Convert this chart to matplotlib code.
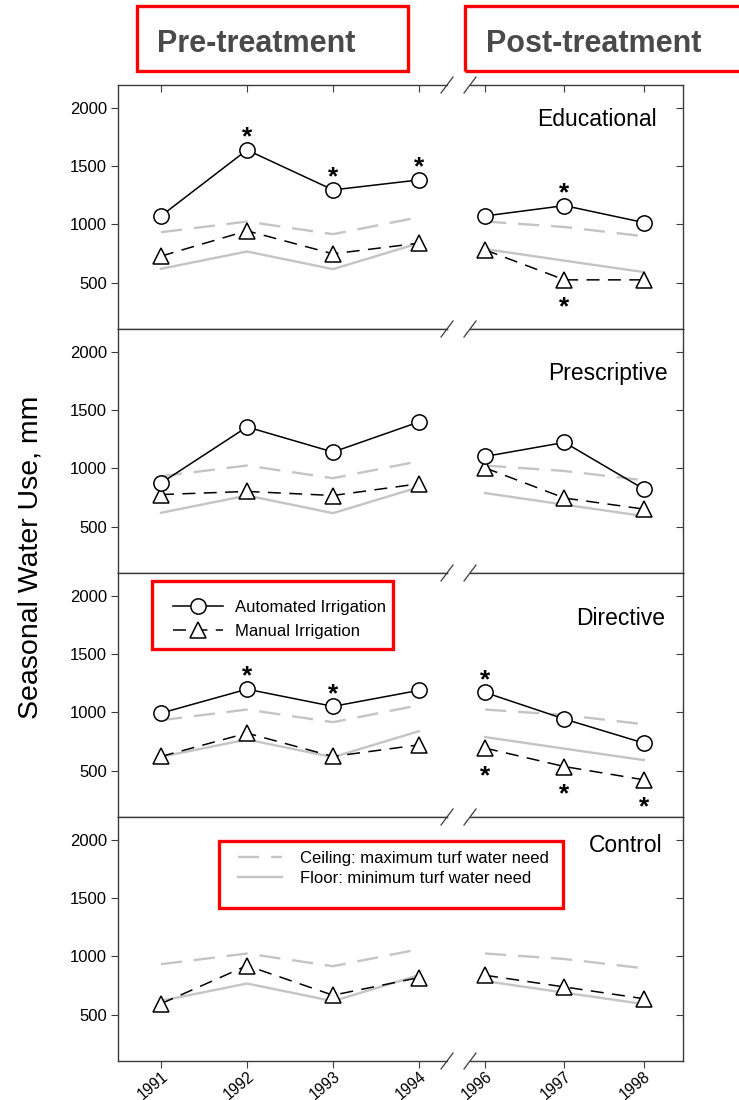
import matplotlib
matplotlib.use("Agg")
import matplotlib.pyplot as plt
from matplotlib import font_manager
from matplotlib.lines import Line2D
from matplotlib.patches import Rectangle

# ---------------- data ----------------
years_pre = [1991, 1992, 1993, 1994]
years_post = [1996, 1997, 1998]
panel_names = ["Educational", "Prescriptive", "Directive", "Control"]
y_ticks = [500, 1000, 1500, 2000]

ceiling_pre = [933, 1025, 916, 1062]
ceiling_post = [1025, 978, 898]
floor_pre = [618, 767, 615, 839]
floor_post = [788, 688, 590]

edu_auto_pre = [1073, 1641, 1297, 1383]
edu_auto_post = [1073, 1162, 1016]
edu_manual_pre = [727, 945, 747, 839]
edu_manual_post = [781, 523, 523]

pre_auto_pre = [874, 1357, 1141, 1400]
pre_auto_post = [1103, 1224, 822]
pre_manual_pre = [775, 802, 767, 868]
pre_manual_post = [1005, 745, 650]

dir_auto_pre = [994, 1200, 1052, 1190]
dir_auto_post = [1172, 943, 736]
dir_manual_pre = [621, 822, 621, 721]
dir_manual_post = [693, 534, 420]

con_manual_pre = [593, 921, 666, 818]
con_manual_post = [838, 737, 636]

auto_series = {
    "Educational": (edu_auto_pre, edu_auto_post),
    "Prescriptive": (pre_auto_pre, pre_auto_post),
    "Directive": (dir_auto_pre, dir_auto_post),
    "Control": None,
}
manual_series = {
    "Educational": (edu_manual_pre, edu_manual_post),
    "Prescriptive": (pre_manual_pre, pre_manual_post),
    "Directive": (dir_manual_pre, dir_manual_post),
    "Control": (con_manual_pre, con_manual_post),
}

# significance stars: (panel, series, year, side)
stars = [
    ("Educational", "auto", 1992, "above"),
    ("Educational", "auto", 1993, "above"),
    ("Educational", "auto", 1994, "above"),
    ("Educational", "auto", 1997, "above"),
    ("Educational", "manual", 1997, "below"),
    ("Directive", "auto", 1992, "above"),
    ("Directive", "auto", 1993, "above"),
    ("Directive", "auto", 1996, "above"),
    ("Directive", "manual", 1996, "below"),
    ("Directive", "manual", 1997, "below"),
    ("Directive", "manual", 1998, "below"),
]

legend1_labels = ["Automated Irrigation", "Manual Irrigation"]
legend2_labels = ["Ceiling: maximum turf water need", "Floor: minimum turf water need"]

# ---------------- style ----------------
plt.rcParams["font.family"] = ["Liberation Sans", "DejaVu Sans"]
W, H = 739, 1100
fig = plt.figure(figsize=(W / 100, H / 100), dpi=100)


def fx(px):
    return px / W


def fy(py):
    return 1 - py / H


GREY = "#c4c4c4"
SPINE = "#3c3c3c"
RED = "#ff0000"
black_dash = (0, (8.5, 5.5))
grey_dash = (0, (9.0, 5.0))
ms = 11

names = {f.name for f in font_manager.fontManager.ttflist}
if "Liberation Sans Narrow" in names:
    head_kw = dict(family="Liberation Sans Narrow", fontsize=26, fontweight="bold")
else:
    head_kw = dict(family="Liberation Sans", fontsize=22, fontweight="bold")

panel_top0 = 85
panel_h = 244
left_l, left_r = 118, 447
right_l, right_r = 470, 683
title_pos = [(657, 126), (668, 380), (665, 625), (663, 852)]

series_lookup = {}

for i, name in enumerate(panel_names):
    top = panel_top0 + panel_h * i
    bottom = top + panel_h
    axL = fig.add_axes([fx(left_l), fy(bottom), fx(left_r) - fx(left_l), panel_h / H])
    axR = fig.add_axes([fx(right_l), fy(bottom), fx(right_r) - fx(right_l), panel_h / H])

    for ax, yrs, idx in ((axL, years_pre, 0), (axR, years_post, 1)):
        ax.set_ylim(100, 2200)
        ceil = ceiling_pre if idx == 0 else ceiling_post
        flo = floor_pre if idx == 0 else floor_post
        ax.plot(yrs, ceil, color=GREY, lw=1.7, ls=grey_dash, zorder=1)
        ax.plot(yrs, flo, color=GREY, lw=1.7, zorder=1)
        man = manual_series[name]
        if man is not None:
            ax.plot(yrs, man[idx], color="black", lw=1.1, ls=black_dash, marker="^",
                    ms=ms, mfc="white", mec="black", mew=1.1, zorder=3)
            series_lookup[(name, "manual")] = (years_pre + years_post, man[0] + man[1])
        au = auto_series[name]
        if au is not None:
            ax.plot(yrs, au[idx], color="black", lw=1.1, marker="o",
                    ms=ms, mfc="white", mec="black", mew=1.1, zorder=4)
            series_lookup[(name, "auto")] = (years_pre + years_post, au[0] + au[1])
        ax.set_xticks(yrs)
        if i == len(panel_names) - 1:
            ax.set_xticklabels([str(y) for y in yrs], rotation=40, ha="right",
                               rotation_mode="anchor", fontsize=11.2)
        else:
            ax.set_xticklabels([])
        for sp in ax.spines.values():
            sp.set_color(SPINE)
            sp.set_linewidth(1.0)
        ax.tick_params(axis="x", direction="out", length=5, color=SPINE, pad=0.3)

    axL.set_xlim(1990.5, 1994 + (left_r - 419) / 86)
    axR.set_xlim(1996 - (485 - right_l) / 79.3, 1998 + (right_r - 644) / 79.3)

    axL.spines["right"].set_visible(False)
    axR.spines["left"].set_visible(False)
    axL.set_yticks(y_ticks)
    axL.tick_params(axis="y", direction="out", length=5, color=SPINE, labelsize=12, pad=3)
    axR.set_yticks(y_ticks)
    axR.yaxis.tick_right()
    axR.tick_params(axis="y", direction="in", length=5, color=SPINE, labelright=False)

    if i == 0:
        for ax, yrs in ((axL, years_pre), (axR, years_post)):
            sec = ax.secondary_xaxis("top")
            sec.set_xticks(yrs)
            sec.set_xticklabels([])
            sec.tick_params(direction="in", length=5, color=SPINE)
            sec.spines["top"].set_visible(False)

    tx, ty = title_pos[i]
    fig.text(fx(tx), fy(ty), name, ha="right", va="baseline", fontsize=16.5)

    # stars
    for (pn, ser, yr, side) in stars:
        if pn != name:
            continue
        xs, vs = series_lookup[(pn, ser)]
        v = vs[xs.index(yr)]
        ax = axL if yr in years_pre else axR
        off = 4.0 if side == "above" else -25
        ax.annotate("*", xy=(yr, v), xytext=(0, off), textcoords="offset points",
                    ha="center", va="baseline", fontsize=19, fontweight="bold",
                    zorder=5)

# break marks
for k in range(len(panel_names) + 1):
    yb = panel_top0 + panel_h * k
    for cx in (left_r, right_l):
        fig.add_artist(Line2D([fx(cx - 6), fx(cx + 6)], [fy(yb + 8), fy(yb - 8)],
                              transform=fig.transFigure, color=SPINE, lw=0.9))

# y label
fig.text(fx(31), fy(557), "Seasonal Water Use, mm", rotation=90, ha="center",
         va="center", fontsize=20.5)

# headers
fig.text(fx(157), fy(52), "Pre-treatment", ha="left", va="baseline",
         color="#4a4a4a", **head_kw)
fig.text(fx(486), fy(52), "Post-treatment", ha="left", va="baseline",
         color="#4a4a4a", **head_kw)


def red_box(x0, y0, x1, y1):
    fig.add_artist(Rectangle((fx(x0), fy(y1)), fx(x1) - fx(x0), (y1 - y0) / H,
                             transform=fig.transFigure, fill=False, edgecolor=RED,
                             lw=2.4, zorder=10, clip_on=False))


red_box(137, 6, 408, 71)
red_box(465, 6, 760, 71)

# legend 1
h_auto = Line2D([], [], color="black", lw=1.1, marker="o", ms=ms, mfc="white",
                mec="black", mew=1.1)
h_man = Line2D([], [], color="black", lw=1.1, ls=black_dash, marker="^", ms=ms,
               mfc="white", mec="black", mew=1.1)
fig.legend([h_auto, h_man], legend1_labels, loc="upper left",
           bbox_to_anchor=(fx(173), fy(600)), bbox_transform=fig.transFigure,
           frameon=False, fontsize=12, handlelength=3.0, handletextpad=0.7,
           labelspacing=0.55, borderpad=0, borderaxespad=0)
red_box(152, 581, 393, 649)

# legend 2
h_ceil = Line2D([], [], color=GREY, lw=1.7, ls=grey_dash)
h_floor = Line2D([], [], color=GREY, lw=1.7)
fig.legend([h_ceil, h_floor], legend2_labels, loc="upper left",
           bbox_to_anchor=(fx(238), fy(851)), bbox_transform=fig.transFigure,
           frameon=False, fontsize=12, handlelength=2.65, handletextpad=1.05,
           labelspacing=0.3, borderpad=0, borderaxespad=0)
red_box(219, 841, 563, 908)

fig.savefig("out.png", dpi=100)
